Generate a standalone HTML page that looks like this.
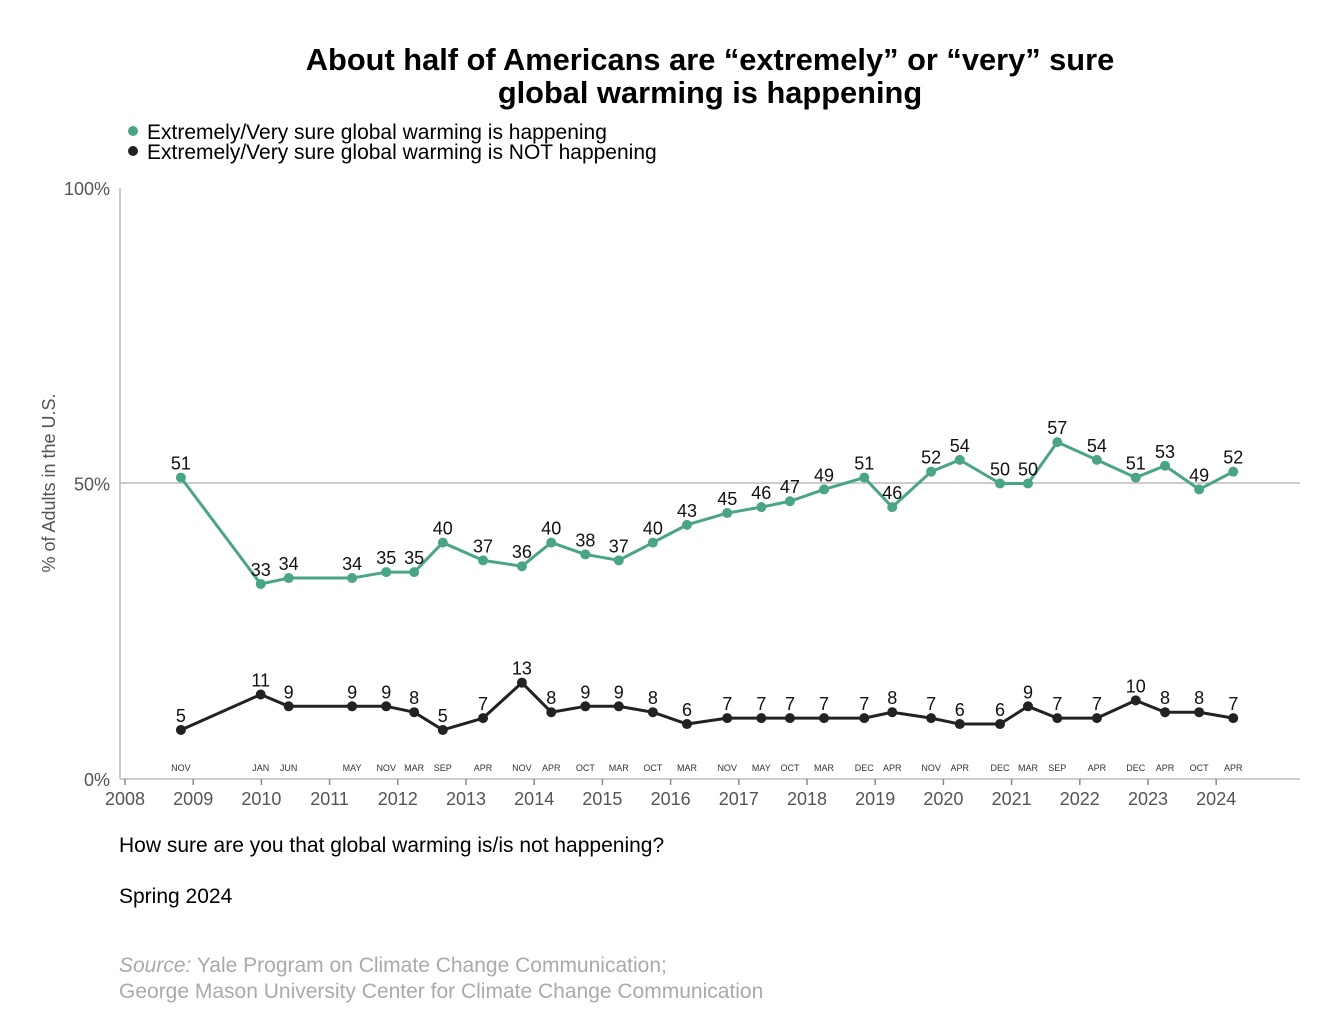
<!DOCTYPE html>
<html><head><meta charset="utf-8"><style>
body{margin:0;background:#fff;font-family:"Liberation Sans",sans-serif}
svg{display:block}
</style></head><body>
<svg id="c" width="1330" height="1030" xmlns="http://www.w3.org/2000/svg" font-family="Liberation Sans, sans-serif">
<text x="710" y="70" text-anchor="middle" font-size="30.8" font-weight="bold" fill="#000">About half of Americans are “extremely” or “very” sure</text>
<text x="710" y="103" text-anchor="middle" font-size="30.8" font-weight="bold" fill="#000">global warming is happening</text>
<g>
<circle cx="133" cy="131" r="5" fill="#4aa583"/>
<text x="147" y="139" font-size="21" fill="#000">Extremely/Very sure global warming is happening</text>
<circle cx="133" cy="151" r="5" fill="#222"/>
<text x="147" y="159" font-size="21" fill="#000">Extremely/Very sure global warming is NOT happening</text>
</g>
<text transform="translate(55,483) rotate(-90)" text-anchor="middle" font-size="18" fill="#555">% of Adults in the U.S.</text>
<line x1="120" y1="483" x2="1300" y2="483" stroke="#bbb" stroke-width="1.5"/>
<line x1="120" y1="188" x2="120" y2="779" stroke="#bbb" stroke-width="1.5"/>
<line x1="120" y1="779" x2="1300" y2="779" stroke="#bbb" stroke-width="1.5"/>
<g id="marks"></g>
<text x="119" y="852" font-size="21" fill="#000">How sure are you that global warming is/is not happening?</text>
<text x="119" y="903" font-size="21" fill="#000">Spring 2024</text>
<text x="119" y="972" font-size="21" fill="#aaa"><tspan font-style="italic">Source:</tspan> Yale Program on Climate Change Communication;</text>
<text x="119" y="998" font-size="21" fill="#aaa">George Mason University Center for Climate Change Communication</text>
</svg>
<script>
const months=["NOV","JAN","JUN","MAY","NOV","MAR","SEP","APR","NOV","APR","OCT","MAR","OCT","MAR","NOV","MAY","OCT","MAR","DEC","APR","NOV","APR","DEC","MAR","SEP","APR","DEC","APR","OCT","APR"];
const dates=[2008.82,2009.99,2010.40,2011.33,2011.83,2012.24,2012.66,2013.25,2013.82,2014.25,2014.75,2015.24,2015.74,2016.24,2016.83,2017.33,2017.75,2018.25,2018.84,2019.25,2019.82,2020.24,2020.83,2021.24,2021.67,2022.25,2022.82,2023.25,2023.75,2024.25];
const happening=[51,33,34,34,35,35,40,37,36,40,38,37,40,43,45,46,47,49,51,46,52,54,50,50,57,54,51,53,49,52];
const notHappening=[5,11,9,9,9,8,5,7,13,8,9,9,8,6,7,7,7,7,7,8,7,6,6,9,7,7,10,8,8,7];
const yTicks=[0,50,100];
const xYears=[2008,2009,2010,2011,2012,2013,2014,2015,2016,2017,2018,2019,2020,2021,2022,2023,2024];
const xs=t=>125+68.2*(t-2008);
const ys=v=>779-5.91*v;
const NS="http://www.w3.org/2000/svg";
const g=document.getElementById('marks');
function mk(tag,attrs,txt){const e=document.createElementNS(NS,tag);for(const k in attrs)e.setAttribute(k,attrs[k]);if(txt!==undefined)e.textContent=txt;g.appendChild(e);return e;}
yTicks.forEach(v=>{const t=mk('text',{x:110,y:ys(v)+7,'text-anchor':'end','font-size':18,fill:'#555'},v+'%');

});
xYears.forEach(y=>{const l=mk('line',{x1:xs(y),x2:xs(y),y1:779,y2:785,stroke:'#888','stroke-width':1.5});


const t=mk('text',{x:xs(y),y:805,'text-anchor':'middle','font-size':18,fill:'#555'},y);

});
const tx=i=>xs(dates[i]);
months.forEach((m,i)=>{const t=mk('text',{x:tx(i),y:771,'text-anchor':'middle','font-size':9,fill:'#333'},m);

});
function series(vals,off,color,name){
 const pts=vals.map((v,i)=>tx(i)+','+ys(v+off)).join(' ');
 const p=mk('polyline',{points:pts,fill:'none',stroke:color,'stroke-width':3,'stroke-linejoin':'round'});
 
 
 vals.forEach((v,i)=>{const c=mk('circle',{cx:tx(i),cy:ys(v+off),r:5,fill:color});
 
 
 const t=mk('text',{x:tx(i),y:ys(v+off)-8,'text-anchor':'middle','font-size':18,fill:'#111'},v);
 
 });
}
series(happening,0,'#4aa583','happening');
series(notHappening,3.3,'#222','not-happening');
</script>
</body></html>
